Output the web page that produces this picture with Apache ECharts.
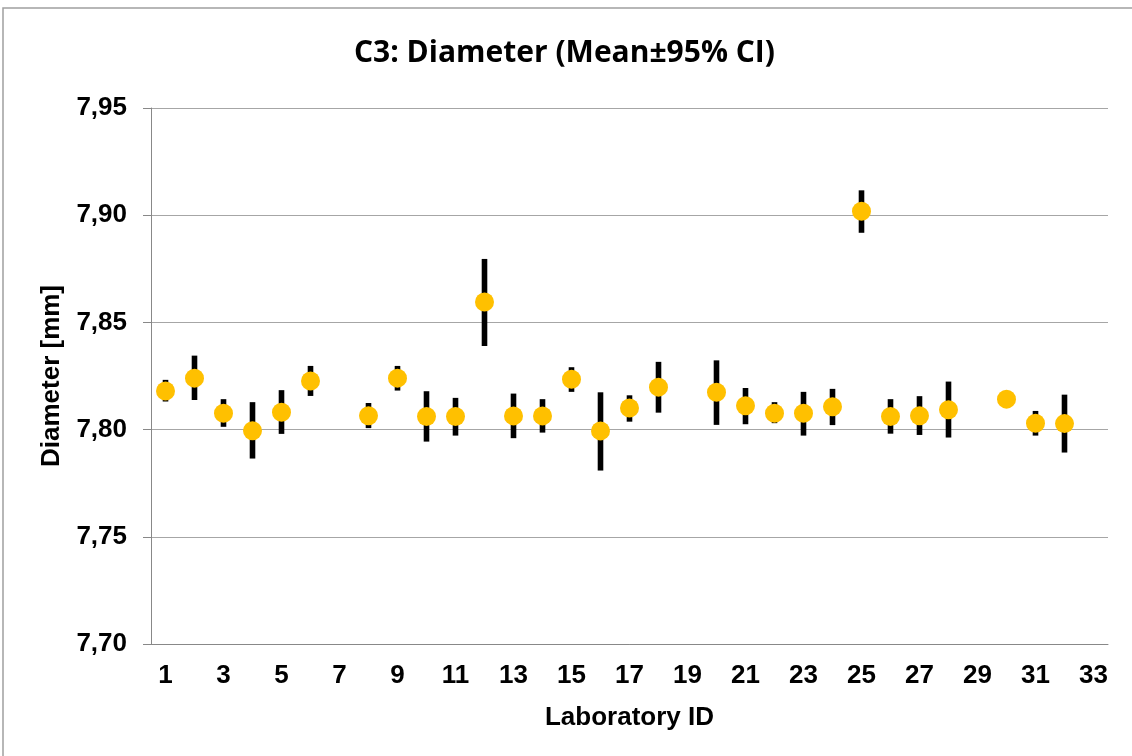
<!DOCTYPE html>
<html>
<head>
<meta charset="utf-8">
<script src="https://cdn.jsdelivr.net/npm/echarts@6/dist/echarts.min.js"></script>
<style>
  html, body { margin: 0; padding: 0; background: #fff; }
  #chart { width: 1132px; height: 756px; }
</style>
</head>
<body>
<div id="chart"></div>
<script>
// laboratory ids, mean and 95% CI bounds (null = no result)
var labs = ['1','2','3','4','5','6','7','8','9','10','11','12','13','14','15','16','17',
            '18','19','20','21','22','23','24','25','26','27','28','29','30','31','32','33'];
var means = [7.818, 7.824, 7.8076, 7.7995, 7.8081, 7.8227, null, 7.8065, 7.824, 7.8061, 7.8061,
             7.8595, 7.8064, 7.8064, 7.8235, 7.7994, 7.8101, 7.8198, null, 7.8174, 7.8111, 7.8076,
             7.8076, 7.8107, 7.9018, 7.8061, 7.8065, 7.8093, null, 7.8142, 7.803, 7.8028, null];
var upper = [7.8232, 7.8345, 7.8142, 7.8128, 7.8184, 7.8297, null, 7.8124, 7.8297, 7.8179, 7.8148,
             7.8796, 7.8168, 7.8142, 7.8291, 7.8174, 7.816, 7.8316, null, 7.8323, 7.8194, 7.8128,
             7.8176, 7.819, 7.9116, 7.8142, 7.8156, 7.8224, null, 7.8162, 7.8087, 7.8163, null];
var lower = [7.8131, 7.8138, 7.8013, 7.7865, 7.798, 7.8157, null, 7.8007, 7.8182, 7.7944, 7.7972,
             7.839, 7.796, 7.7986, 7.8176, 7.7809, 7.8037, 7.8079, null, 7.8022, 7.8025, 7.803,
             7.7972, 7.8021, 7.8918, 7.7981, 7.7975, 7.7963, null, 7.8122, 7.7972, 7.7893, null];

var ciData = [];
labs.forEach(function (id, i) {
  if (means[i] != null) ciData.push([i, lower[i], upper[i]]);
});

var chart = echarts.init(document.getElementById('chart'));
var axisFont = { fontFamily: 'Liberation Sans', fontWeight: 'bold', fontSize: 26, color: '#000' };

chart.setOption({
  animation: false,
  backgroundColor: '#fff',
  title: {
    text: 'C3: Diameter (Mean\u00b195% CI)',
    left: 349,
    top: 33,
    textStyle: { fontFamily: 'Open Sans', fontWeight: 'bold', fontSize: 30, color: '#000' }
  },
  graphic: [{
    type: 'rect',
    shape: { x: 3, y: 8, width: 1140, height: 760 },
    style: { fill: 'none', stroke: '#a0a0a0', lineWidth: 1.5 },
    silent: true
  }],
  grid: { left: 151, right: 24, top: 108, bottom: 112 },
  xAxis: {
    type: 'category',
    data: labs,
    name: 'Laboratory ID',
    nameLocation: 'middle',
    nameGap: 61,
    nameTextStyle: axisFont,
    axisLine: { lineStyle: { color: '#888', width: 1 } },
    axisTick: { interval: 0, length: 8, lineStyle: { color: '#888' } },
    axisLabel: Object.assign({ interval: 1, margin: 19 }, axisFont),
    splitLine: { show: false }
  },
  yAxis: {
    type: 'value',
    min: 7.70,
    max: 7.95,
    interval: 0.05,
    name: 'Diameter [mm]',
    nameLocation: 'middle',
    nameGap: 86,
    nameTextStyle: axisFont,
    axisLine: { show: true, lineStyle: { color: '#888', width: 1 } },
    axisTick: { show: true, length: 8, lineStyle: { color: '#888' } },
    axisLabel: Object.assign({
      margin: 24,
      formatter: function (v) { return v.toFixed(2).replace('.', ','); }
    }, axisFont),
    splitLine: { lineStyle: { color: '#a6a6a6', width: 1.2 } }
  },
  series: [
    {
      type: 'custom',
      name: 'CI',
      data: ciData,
      z: 2,
      renderItem: function (params, api) {
        var top = api.coord([api.value(0), api.value(2)]);
        var bot = api.coord([api.value(0), api.value(1)]);
        return {
          type: 'rect',
          shape: { x: top[0] - 2.8, y: top[1], width: 5.6, height: bot[1] - top[1] },
          style: { fill: '#000' }
        };
      }
    },
    {
      type: 'scatter',
      name: 'Mean',
      data: means,
      z: 3,
      symbol: 'circle',
      symbolSize: 19,
      itemStyle: { color: '#FFC000', opacity: 1 }
    }
  ]
});
</script>
</body>
</html>
